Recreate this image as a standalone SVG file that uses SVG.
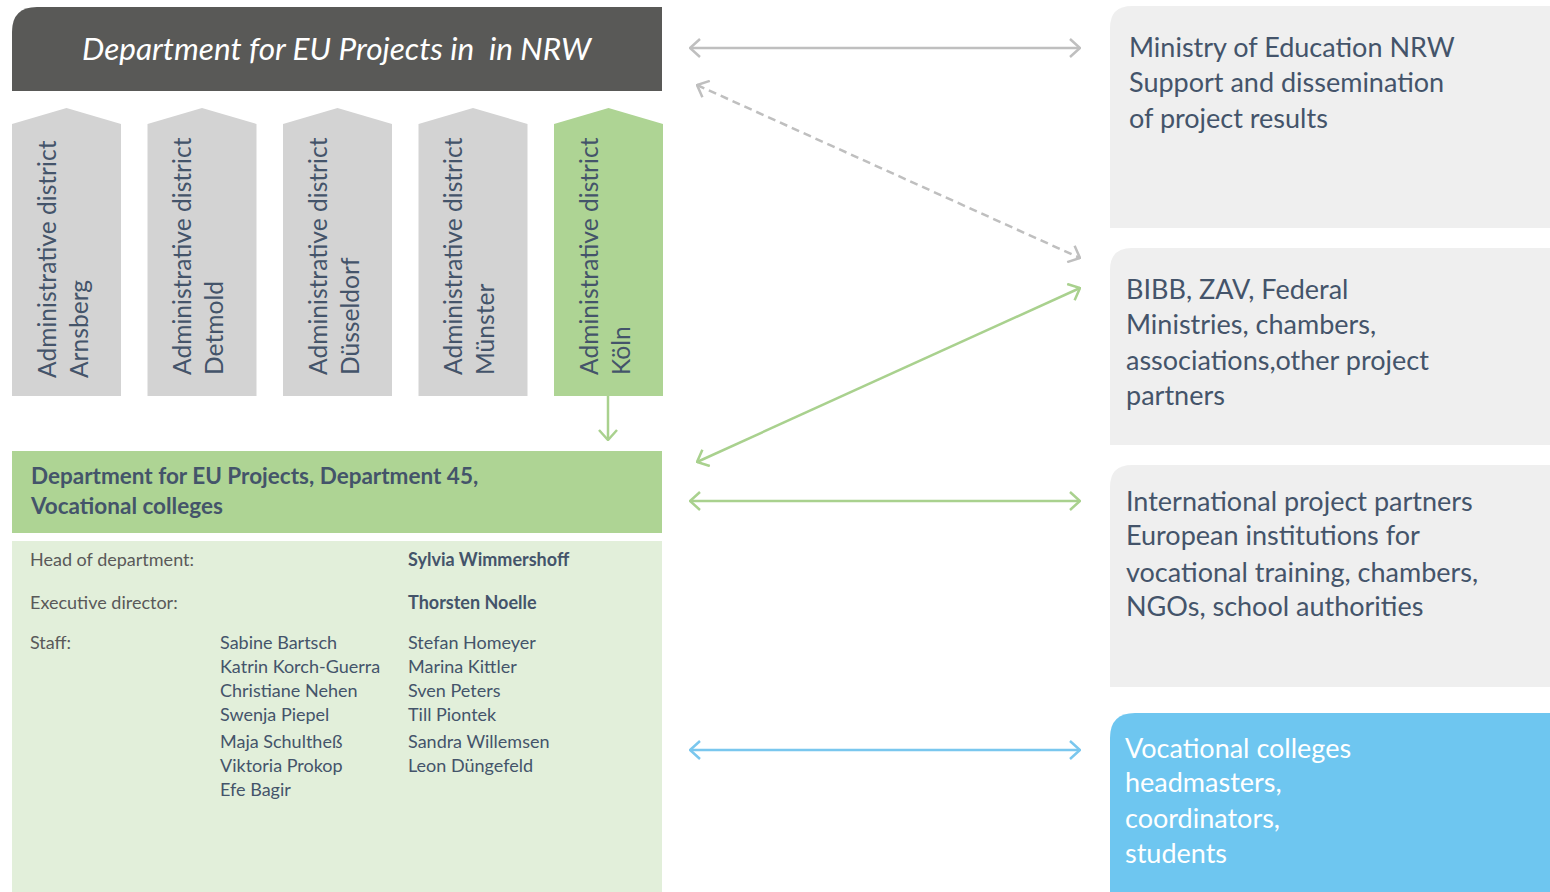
<svg xmlns="http://www.w3.org/2000/svg" width="1550" height="892" viewBox="0 0 1550 892">
<style>
text{font-family:Lato,"Open Sans","Liberation Sans",sans-serif;fill:#44546a}
.dist{font-size:24.6px}
.right{font-size:27px}
.info{font-size:18px}
.lab{fill:#595959}
.b{font-weight:bold}
.wht{fill:#ffffff}
.conn{fill:none;stroke-width:2.5}
</style>
<defs>
<marker id="ag" viewBox="0 0 12 20" refX="11" refY="10" markerWidth="12" markerHeight="20" markerUnits="userSpaceOnUse" orient="auto-start-reverse"><path d="M1,1 L11,10 L1,19" fill="none" stroke="#bfbfbf" stroke-width="2.5"/></marker>
<marker id="agr" viewBox="0 0 12 20" refX="11" refY="10" markerWidth="12" markerHeight="20" markerUnits="userSpaceOnUse" orient="auto-start-reverse"><path d="M1,1 L11,10 L1,19" fill="none" stroke="#a9d18e" stroke-width="2.5"/></marker>
<marker id="abl" viewBox="0 0 12 20" refX="11" refY="10" markerWidth="12" markerHeight="20" markerUnits="userSpaceOnUse" orient="auto-start-reverse"><path d="M1,1 L11,10 L1,19" fill="none" stroke="#7ac7ee" stroke-width="2.5"/></marker>
</defs>
<rect width="1550" height="892" fill="#ffffff"/>

<g id="header">
<path d="M12,91 V32 Q12,7 37,7 H662 V91 Z" fill="#595957"/>
<text x="82" y="60" font-size="30" font-style="italic" class="wht" textLength="509" lengthAdjust="spacingAndGlyphs" xml:space="preserve">Department for EU Projects in  in NRW</text>
</g>

<g id="district-arnsberg">
<path d="M12,396 V124 L66.5,108 L121,124 V396 Z" fill="#d3d3d3"/>
<text class="dist" transform="translate(56,378) rotate(-90)">Administrative district</text>
<text class="dist" transform="translate(88,378) rotate(-90)">Arnsberg</text>
</g>
<g id="district-detmold">
<path d="M147.5,396 V124 L202,108 L256.5,124 V396 Z" fill="#d3d3d3"/>
<text class="dist" transform="translate(191,375) rotate(-90)">Administrative district</text>
<text class="dist" transform="translate(223,375) rotate(-90)">Detmold</text>
</g>
<g id="district-duesseldorf">
<path d="M283,396 V124 L337.5,108 L392,124 V396 Z" fill="#d3d3d3"/>
<text class="dist" transform="translate(327,375) rotate(-90)">Administrative district</text>
<text class="dist" transform="translate(359,375) rotate(-90)">Düsseldorf</text>
</g>
<g id="district-muenster">
<path d="M418.5,396 V124 L473,108 L527.5,124 V396 Z" fill="#d3d3d3"/>
<text class="dist" transform="translate(462,375) rotate(-90)">Administrative district</text>
<text class="dist" transform="translate(494,375) rotate(-90)">Münster</text>
</g>
<g id="district-koeln">
<path d="M554,396 V124 L608.5,108 L663,124 V396 Z" fill="#aed494"/>
<text class="dist" transform="translate(598,375) rotate(-90)">Administrative district</text>
<text class="dist" transform="translate(630,375) rotate(-90)">Köln</text>
</g>

<g id="dept45">
<rect x="12" y="451" width="650" height="82" fill="#aed494"/>
<text x="31" y="484" font-size="22.5" class="b">Department for EU Projects, Department 45,</text>
<text x="31" y="514" font-size="22.5" class="b">Vocational colleges</text>
</g>

<g id="staff">
<rect x="12" y="541" width="650" height="351" fill="#e2efda"/>
<text class="info lab" x="30" y="566">Head of department:</text>
<text class="info b" x="408" y="566">Sylvia Wimmershoff</text>
<text class="info lab" x="30" y="609">Executive director:</text>
<text class="info b" x="408" y="609">Thorsten Noelle</text>
<text class="info lab" x="30" y="649">Staff:</text>
<text class="info" x="220" y="649">Sabine Bartsch</text>
<text class="info" x="220" y="673">Katrin Korch-Guerra</text>
<text class="info" x="220" y="697">Christiane Nehen</text>
<text class="info" x="220" y="721">Swenja Piepel</text>
<text class="info" x="220" y="748">Maja Schultheß</text>
<text class="info" x="220" y="772">Viktoria Prokop</text>
<text class="info" x="220" y="796">Efe Bagir</text>
<text class="info" x="408" y="649">Stefan Homeyer</text>
<text class="info" x="408" y="673">Marina Kittler</text>
<text class="info" x="408" y="697">Sven Peters</text>
<text class="info" x="408" y="721">Till Piontek</text>
<text class="info" x="408" y="748">Sandra Willemsen</text>
<text class="info" x="408" y="772">Leon Düngefeld</text>
</g>

<g id="ministry">
<path d="M1110,228 V28 Q1110,6 1132,6 H1550 V228 Z" fill="#efefef"/>
<text class="right" x="1129" y="57">Ministry of Education NRW</text>
<text class="right" x="1129" y="92">Support and dissemination</text>
<text class="right" x="1129" y="128">of project results</text>
</g>
<g id="bibb">
<path d="M1110,445 V270 Q1110,248 1132,248 H1550 V445 Z" fill="#efefef"/>
<text class="right" x="1126" y="299">BIBB, ZAV, Federal</text>
<text class="right" x="1126" y="334">Ministries, chambers,</text>
<text class="right" x="1126" y="370">associations,other project</text>
<text class="right" x="1126" y="405">partners</text>
</g>
<g id="international">
<path d="M1110,687 V487 Q1110,465 1132,465 H1550 V687 Z" fill="#efefef"/>
<text class="right" x="1126" y="511">International project partners</text>
<text class="right" x="1126" y="545">European institutions for</text>
<text class="right" x="1126" y="582">vocational training, chambers,</text>
<text class="right" x="1126" y="616">NGOs, school authorities</text>
</g>
<g id="colleges">
<path d="M1110,892 V738 Q1110,713 1135,713 H1550 V892 Z" fill="#6ec6f0"/>
<text class="right wht" x="1125" y="758">Vocational colleges</text>
<text class="right wht" x="1125" y="792">headmasters,</text>
<text class="right wht" x="1125" y="828">coordinators,</text>
<text class="right wht" x="1125" y="863">students</text>
</g>

<g id="connectors">
<line class="conn" x1="608" y1="396" x2="608" y2="440" stroke="#a9d18e" marker-end="url(#agr)"/>
<line class="conn" x1="690" y1="48" x2="1080" y2="48" stroke="#bfbfbf" marker-start="url(#ag)" marker-end="url(#ag)"/>
<line class="conn" x1="697" y1="85" x2="1080" y2="258" stroke="#bfbfbf" stroke-dasharray="8,5" marker-start="url(#ag)" marker-end="url(#ag)"/>
<line class="conn" x1="697" y1="462" x2="1080" y2="288" stroke="#a9d18e" marker-start="url(#agr)" marker-end="url(#agr)"/>
<line class="conn" x1="690" y1="501" x2="1080" y2="501" stroke="#a9d18e" marker-start="url(#agr)" marker-end="url(#agr)"/>
<line class="conn" x1="690" y1="750" x2="1080" y2="750" stroke="#7ac7ee" marker-start="url(#abl)" marker-end="url(#abl)"/>
</g>
</svg>
